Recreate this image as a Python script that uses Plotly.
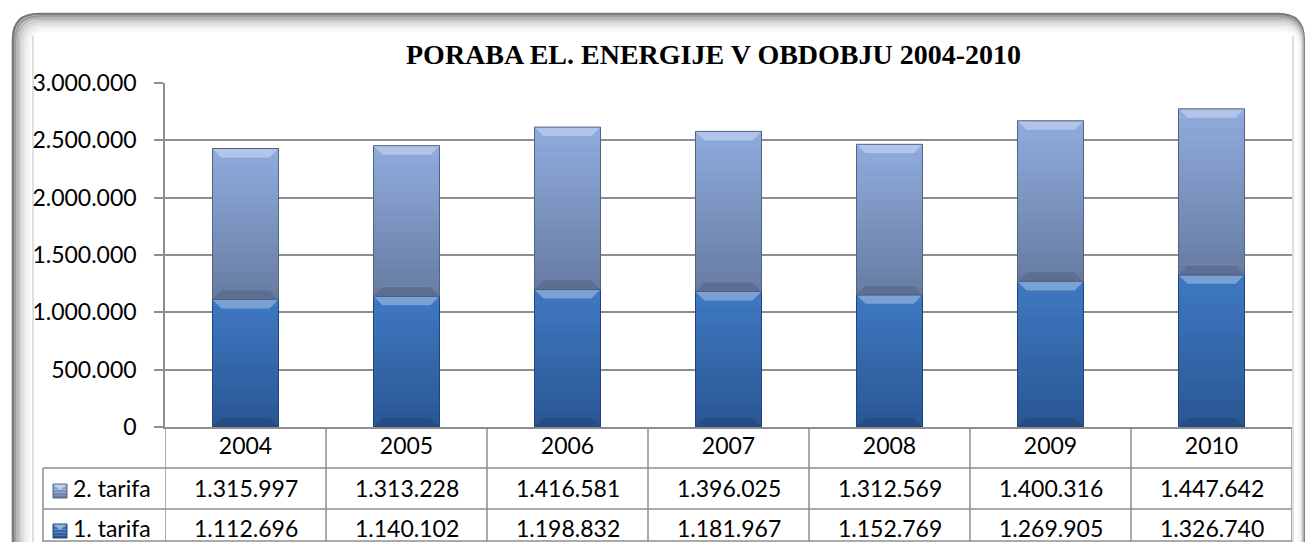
import plotly.graph_objects as go

# ---------------- data ----------------
years = ["2004", "2005", "2006", "2007", "2008", "2009", "2010"]
tarifa1 = [1112696, 1140102, 1198832, 1181967, 1152769, 1269905, 1326740]
tarifa2 = [1315997, 1313228, 1416581, 1396025, 1312569, 1400316, 1447642]
name1 = "1. tarifa"
name2 = "2. tarifa"
y_ticks = [0, 500000, 1000000, 1500000, 2000000, 2500000, 3000000]
title_text = "PORABA EL. ENERGIJE V OBDOBJU 2004-2010"

# ---------------- geometry / styles ----------------
W, H = 1306, 542
L, R, T, B = 165, 14, 83, 115
PW = W - L - R
PH = H - T - B
YMAX = 3000000
UPP = YMAX / PH  # value units per pixel
BARW = 0.41

FONT = "Lato, 'Open Sans', sans-serif"
FS = 23
GRID = "#8e8e8e"

C2_TOP, C2_BOT = (0x90, 0xAC, 0xDE), (0x66, 0x7B, 0xA1)
C1_TOP, C1_BOT = (0x3F, 0x79, 0xC3), (0x29, 0x56, 0x92)


def px(x):
    return (x - L) / PW


def py(y):
    return (H - B - y) / PH


def fmt(v):
    return f"{v:,}".replace(",", ".")


def hexc(c):
    return "#%02x%02x%02x" % tuple(int(round(v)) for v in c)


def mix(a, b, t):
    return tuple(a[k] + (b[k] - a[k]) * t for k in range(3))


xs = list(range(len(years)))

fig = go.Figure()
fig.add_trace(go.Bar(
    x=xs, y=tarifa1, name=name1, marker=dict(color=hexc(mix(C1_TOP, C1_BOT, 0.5)),
                                              line=dict(width=0)),
    width=BARW, hovertemplate="%{y:,d}<extra>" + name1 + "</extra>"))
fig.add_trace(go.Bar(
    x=xs, y=tarifa2, name=name2, marker=dict(color=hexc(mix(C2_TOP, C2_BOT, 0.5)),
                                              line=dict(width=0)),
    width=BARW, hovertemplate="%{y:,d}<extra>" + name2 + "</extra>"))

shapes = []
annotations = []

# ---- gradient + bevel decoration for each bar segment (derived from data) ----
NS = 16
bev_px = 9
bev_h = bev_px * UPP
bev_dx = bev_px / (PW / len(years))
for i in xs:
    segs = [(0, tarifa1[i], C1_TOP, C1_BOT), (tarifa1[i], tarifa1[i] + tarifa2[i], C2_TOP, C2_BOT)]
    for (y0, y1, ctop, cbot) in segs:
        x0, x1 = i - BARW / 2, i + BARW / 2
        for s in range(NS):
            a = y0 + (y1 - y0) * s / NS
            b = y0 + (y1 - y0) * (s + 1) / NS
            t = 1 - (s + 0.5) / NS
            shapes.append(dict(type="rect", xref="x", yref="y", x0=x0, x1=x1, y0=a, y1=b,
                               fillcolor=hexc(mix(ctop, cbot, t)), line=dict(width=0), layer="above"))
        # top highlight bevel
        light = hexc(mix(ctop, (255, 255, 255), 0.3))
        shapes.append(dict(type="path", xref="x", yref="y",
                           path=f"M {x0},{y1} L {x1},{y1} L {x1 - bev_dx},{y1 - bev_h} L {x0 + bev_dx},{y1 - bev_h} Z",
                           fillcolor=light, line=dict(width=0), layer="above"))
        # bottom dark bevel
        dark = hexc(mix(cbot, (0, 0, 0), 0.1))
        shapes.append(dict(type="path", xref="x", yref="y",
                           path=f"M {x0},{y0} L {x1},{y0} L {x1 - bev_dx},{y0 + bev_h} L {x0 + bev_dx},{y0 + bev_h} Z",
                           fillcolor=dark, line=dict(width=0), layer="above"))
        # outline
        shapes.append(dict(type="rect", xref="x", yref="y", x0=x0, x1=x1, y0=y0, y1=y1,
                           fillcolor="rgba(0,0,0,0)", line=dict(width=1, color=hexc(mix(cbot, (0, 0, 0), 0.2))),
                           layer="above"))

# ---- outer rounded frame with soft shadow ----
def rrect(x0, y0, x1, y1, r):
    pts = (f"M {px(x0 + r)},{py(y0)} L {px(x1 - r)},{py(y0)} Q {px(x1)},{py(y0)} {px(x1)},{py(y0 + r)} "
           f"L {px(x1)},{py(y1 - r)} Q {px(x1)},{py(y1)} {px(x1 - r)},{py(y1)} "
           f"L {px(x0 + r)},{py(y1)} Q {px(x0)},{py(y1)} {px(x0)},{py(y1 - r)} "
           f"L {px(x0)},{py(y0 + r)} Q {px(x0)},{py(y0)} {px(x0 + r)},{py(y0)} Z")
    return pts

frame_cols = [(0x7a, 0x7a, 0x7a), (0x9c, 0x9c, 0x9c), (0xb8, 0xb8, 0xb8), (0xcc, 0xcc, 0xcc),
              (0xdc, 0xdc, 0xdc), (0xe8, 0xe8, 0xe8), (0xf1, 0xf1, 0xf1), (0xf8, 0xf8, 0xf8)]
for k, c in enumerate(frame_cols):
    off = 1 + k * 2.4
    shapes.append(dict(type="path", xref="paper", yref="paper",
                       path=rrect(12 + off, 13 + off, 1304 - off * 0.3, 640, 26 - off * 0.6),
                       line=dict(color=hexc(c), width=2.6), fillcolor="rgba(0,0,0,0)", layer="below"))

# inner chart-area border (light)
for xx in (33, 1293):
    shapes.append(dict(type="line", xref="paper", yref="paper", x0=px(xx), x1=px(xx), y0=py(36), y1=py(560),
                       line=dict(color="#d4d4d4", width=1.5), layer="below"))

# ---- data table grid ----
row_lines = [468, 509, 541]
for yy in row_lines:
    shapes.append(dict(type="line", xref="paper", yref="paper", x0=px(43), x1=px(1292), y0=py(yy), y1=py(yy),
                       line=dict(color=GRID, width=1.5)))
for i in range(len(years) + 1):
    shapes.append(dict(type="line", xref="x", yref="paper", x0=i - 0.5, x1=i - 0.5, y0=py(427), y1=py(545),
                       line=dict(color=GRID, width=1.5)))
shapes.append(dict(type="line", xref="paper", yref="paper", x0=px(43), x1=px(43), y0=py(468), y1=py(545),
                   line=dict(color=GRID, width=1.5)))

row_centers = {name2: 488, name1: 528}
row_vals = {name2: tarifa2, name1: tarifa1}
row_cols = {name2: (C2_TOP, C2_BOT), name1: (C1_TOP, C1_BOT)}
for nm in (name2, name1):
    yc = row_centers[nm]
    for i in xs:
        annotations.append(dict(x=i, y=py(yc), xref="x", yref="paper", text=fmt(row_vals[nm][i]),
                                showarrow=False, xanchor="center", yanchor="middle",
                                font=dict(family=FONT, size=FS, color="#000000")))
    annotations.append(dict(x=px(71), y=py(yc), xref="paper", yref="paper", text=nm, showarrow=False,
                            xanchor="left", yanchor="middle", font=dict(family=FONT, size=FS, color="#000000")))
    ct, cb = row_cols[nm]
    # legend key
    for s in range(5):
        shapes.append(dict(type="rect", xref="paper", yref="paper",
                           x0=px(53), x1=px(67), y0=py(yc - 4 + s * 14 / 5), y1=py(yc - 4 + (s + 1) * 14 / 5),
                           fillcolor=hexc(mix(ct, cb, s / 4)), line=dict(width=0)))
    shapes.append(dict(type="path", xref="paper", yref="paper",
                       path=f"M {px(53)},{py(yc - 4)} L {px(67)},{py(yc - 4)} L {px(60)},{py(yc + 2)} Z",
                       fillcolor=hexc(mix(ct, (255, 255, 255), 0.45)), line=dict(width=0)))
    shapes.append(dict(type="rect", xref="paper", yref="paper", x0=px(53), x1=px(67), y0=py(yc - 4), y1=py(yc + 10),
                       fillcolor="rgba(0,0,0,0)", line=dict(width=1, color=hexc(mix(cb, (0, 0, 0), 0.2)))))

# title
annotations.append(dict(x=px(713), y=py(54), xref="paper", yref="paper", text="<b>" + title_text + "</b>",
                        showarrow=False, xanchor="center", yanchor="middle",
                        font=dict(family="'Liberation Serif', 'DejaVu Serif', serif", size=28, color="#000000")))

fig.update_layout(
    width=W, height=H,
    margin=dict(l=L, r=R, t=T, b=B, pad=0),
    paper_bgcolor="#ffffff", plot_bgcolor="#ffffff",
    barmode="stack", showlegend=False,
    separators=",.",
    shapes=shapes, annotations=annotations,
    font=dict(family=FONT, size=FS, color="#000000"),
)
fig.update_xaxes(
    type="linear", range=[-0.5, len(years) - 0.5], tickmode="array", tickvals=xs, ticktext=years,
    showgrid=False, zeroline=False, showline=True, linecolor=GRID, linewidth=1.5,
    ticks="", ticklabelstandoff=-2, tickfont=dict(family=FONT, size=FS, color="#000000"), fixedrange=True,
)
fig.update_yaxes(
    range=[0, YMAX], tickmode="array", tickvals=y_ticks, tickformat=",d",
    showgrid=True, gridcolor=GRID, gridwidth=1.5, zeroline=False,
    showline=True, linecolor=GRID, linewidth=1.5,
    ticks="outside", ticklen=9, tickcolor=GRID, tickwidth=1.5, ticklabelstandoff=13,
    tickfont=dict(family=FONT, size=FS, color="#000000"), fixedrange=True,
)

fig.write_html("out.html", config={"displayModeBar": False},
               post_script="document.body.style.margin='0';document.body.style.overflow='hidden';")
